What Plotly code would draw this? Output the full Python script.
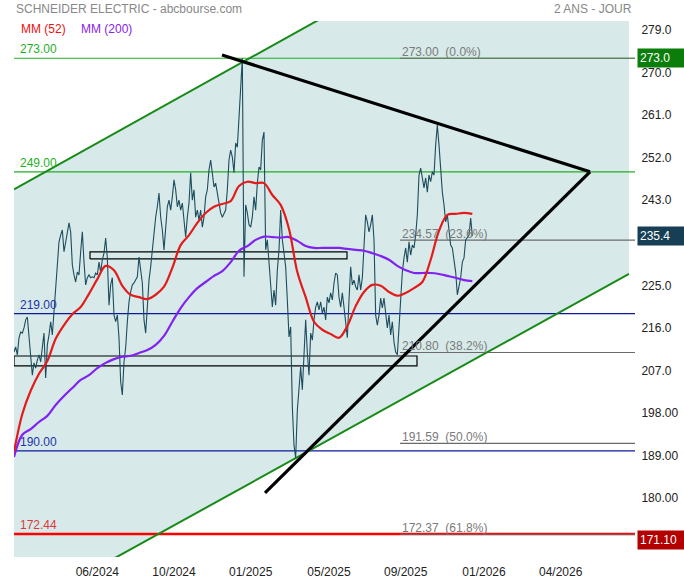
import plotly.graph_objects as go

# ---------------- data ----------------
# daily closing prices (bar index 0..275)
price = [
    210.9, 212.0, 210.3, 213.9, 215.1, 214.9, 216.0, 217.7, 218.3, 213.9,
    209.6, 206.0, 208.6, 207.5, 209.2, 210.3, 208.8, 212.4, 214.9, 205.4,
    212.4, 214.5, 217.3, 214.5, 219.4, 225.1, 229.9, 234.2, 235.6, 236.7,
    232.1, 234.2, 236.3, 238.2, 236.3, 229.3, 227.2, 225.7, 227.8, 227.2,
    232.1, 236.3, 229.9, 225.1, 226.6, 227.2, 226.6, 226.8, 226.6, 227.6,
    227.2, 229.9, 227.8, 230.4, 231.8, 235.0, 230.8, 220.8, 225.1, 226.6,
    218.7, 217.3, 218.7, 213.9, 204.6, 201.8, 208.8, 211.8, 217.3, 221.5,
    223.6, 225.1,
    225.5, 226.1, 226.8, 231.0, 228.7, 225.5, 217.7, 214.9, 220.4, 226.1,
    228.9, 232.5, 236.7, 239.4, 241.6, 244.5, 239.4, 236.7, 232.5, 236.7,
    241.6, 243.0, 240.9, 243.7, 247.3, 245.2, 241.6, 243.0, 240.9, 242.4,
    239.4, 235.2, 239.4, 242.4, 248.8, 243.0, 245.2, 239.4, 240.9, 238.8,
    240.9, 237.3, 239.4, 243.7, 245.2, 249.4, 251.5, 248.8, 245.8, 246.6,
    244.5, 242.4, 240.3, 239.4, 240.3, 240.9, 245.2, 251.5, 253.6, 252.1,
    248.8, 255.1, 254.2, 260.0, 267.8, 273.0,
    226.8, 242.0, 240.3, 237.8, 237.3, 239.4, 243.7, 240.9, 246.6, 250.0,
    249.4, 255.7, 257.4, 232.5, 234.6, 229.7, 224.7, 220.4, 224.0, 220.8,
    228.2, 232.5, 240.9, 234.6, 231.8, 228.9, 221.9, 214.1, 216.2, 199.3,
    191.2, 188.5, 198.6, 204.3, 207.7, 202.9, 212.0, 217.7, 210.7, 206.0,
    214.9, 213.4, 217.7, 220.4, 221.5, 219.8, 221.5, 219.1, 220.4, 217.7,
    222.5, 221.3, 223.4, 221.9, 225.5, 227.6, 227.2, 222.5, 220.4, 223.4,
    220.4, 217.7, 213.9, 221.9, 228.9, 225.1, 226.1, 224.7, 224.0, 227.2,
    224.0, 226.6, 233.5, 239.9, 238.4, 236.3, 237.8, 239.9, 234.6, 218.7,
    216.6, 218.7, 222.3, 220.2, 222.3, 218.7, 216.0, 218.7, 214.5, 217.3,
    213.0, 210.9, 210.3, 216.0, 222.3, 227.8, 230.8, 232.9, 229.9, 234.2,
    231.4, 233.5, 232.9, 235.6, 239.9, 248.3, 249.8, 247.3, 245.6, 247.7,
    244.7, 248.3, 246.9, 249.0, 248.3, 254.7, 258.9, 254.7, 249.0, 244.7,
    242.0, 238.4, 239.9, 236.3, 233.5, 232.9, 229.9, 227.8, 223.0, 225.1,
    226.6, 229.9, 230.8, 234.6, 235.0, 235.6, 239.2, 235.4,
]
price_x = list(range(len(price)))

# moving averages, read every 5 bars (last one at the final bar)
ma_x = list(range(0, 275, 5)) + [275]
mm52 = [
    189.8, 197.8, 202.7, 206.3, 209.0, 213.7, 216.6, 218.9, 220.4, 223.2,
    226.3, 229.1, 228.2, 224.9, 223.0, 222.5, 222.1, 223.0, 224.7, 228.7,
    233.5, 235.6, 238.2, 240.3, 241.6, 242.2, 242.8, 246.0, 246.9, 246.6,
    246.6, 244.1, 242.0, 236.9, 227.8, 222.5, 217.3, 215.6, 214.7, 213.9,
    216.4, 220.6, 223.6, 225.1, 224.9, 223.6, 222.8, 223.4, 224.4, 225.7,
    230.4, 236.5, 239.9, 240.1, 240.3, 240.1,
]
mm200 = [
    188.7, 193.4, 194.6, 196.1, 197.4, 199.7, 201.6, 203.3, 205.0, 206.0,
    207.5, 208.6, 209.4, 209.9, 210.1, 210.7, 211.3, 212.4, 214.3, 217.3,
    220.2, 222.5, 224.4, 225.7, 227.0, 228.0, 229.9, 232.3, 233.3, 234.6,
    235.3, 235.2, 235.1, 235.2, 234.4, 233.3, 232.9, 232.9, 232.9, 232.9,
    232.7, 232.5, 232.3, 231.8, 231.2, 230.4, 229.1, 228.2, 227.6, 227.6,
    227.6, 227.4, 227.0, 226.6, 226.1, 225.9,
]

# x axis labels
x_tickvals = [50, 96, 142, 189, 235, 282, 328]
x_ticktext = ["06/2024", "10/2024", "01/2025", "05/2025", "09/2025", "01/2026", "04/2026"]

# y axis labels
y_tickvals = [279, 270, 261, 252, 243, 225, 216, 207, 198, 189, 180]
y_ticktext = ["279.0", "270.0", "261.0", "252.0", "243.0", "225.0", "216.0", "207.0",
              "198.00", "189.00", "180.00"]

# horizontal levels drawn across the chart
levels = [273.00, 249.00, 219.00, 190.00, 172.44]
level_colors = ["#1fb01f", "#1fb01f", "#0c1a9c", "#0c1a9c", "#ff0000"]
level_text_colors = ["#1fb01f", "#1fb01f", "#2233aa", "#2233aa", "#e0383a"]
level_widths = [1.2, 1.2, 1.2, 1.2, 2.5]

# Fibonacci retracement
fib_levels = [273.00, 234.57, 210.80, 191.59, 172.37]
fib_pcts = ["0.0%", "23.6%", "38.2%", "50.0%", "61.8%"]
fib_start = 231.6

# channel (parallel green lines)
channel_x = [0, 369]
channel_upper = [245.3, 317.6]
channel_lower = [155.56, 227.4]

# converging trend lines
resist_x = [124.8, 345.6]
resist_y = [273.7, 249.0]
support_x = [150.6, 345.6]
support_y = [181.1, 249.0]

# zones (rectangles)
zone_x = [[45.6, 199.8], [0, 241.8]]
zone_y = [[230.57, 232.05], [207.95, 210.06]]

# right-side price tags
tags = [273.0, 235.4, 171.10]
tag_text = ["273.0", "235.4", "171.10"]
tag_colors = ["#0a7d0a", "#163f55", "#b30000"]

X_MAX = 372.6
Y_MIN, Y_MAX = 167.56, 280.88

FONT = "Arial, 'Liberation Sans', sans-serif"

fig = go.Figure()

# channel fill
fig.add_trace(go.Scatter(
    x=[channel_x[0], channel_x[1], channel_x[1], channel_x[0], channel_x[0]],
    y=[channel_upper[0], channel_upper[1], channel_lower[1], channel_lower[0], channel_upper[0]],
    fill="toself", fillcolor="#d7eae9", mode="none", hoverinfo="skip"))

# horizontal levels
for v, c, w in zip(levels, level_colors, level_widths):
    fig.add_trace(go.Scatter(x=[0, X_MAX], y=[v, v], mode="lines",
                             line=dict(color=c, width=w), hoverinfo="skip"))

# fib lines
for v in fib_levels:
    fig.add_trace(go.Scatter(x=[fib_start, X_MAX], y=[v, v], mode="lines",
                             line=dict(color="#6a6a6a", width=1.2), hoverinfo="skip"))

# zones
for zx, zy in zip(zone_x, zone_y):
    fig.add_trace(go.Scatter(x=[zx[0], zx[1], zx[1], zx[0], zx[0]],
                             y=[zy[0], zy[0], zy[1], zy[1], zy[0]],
                             mode="lines", line=dict(color="black", width=1.2), hoverinfo="skip"))

# channel lines
fig.add_trace(go.Scatter(x=channel_x, y=channel_upper, mode="lines",
                         line=dict(color="#188a18", width=2), hoverinfo="skip"))
fig.add_trace(go.Scatter(x=channel_x, y=channel_lower, mode="lines",
                         line=dict(color="#188a18", width=2), hoverinfo="skip"))

# price
fig.add_trace(go.Scatter(x=price_x, y=price, mode="lines",
                         line=dict(color="#1d4c5e", width=1.1)))
# moving averages
fig.add_trace(go.Scatter(x=ma_x, y=mm200, mode="lines", line_shape="spline",
                         line=dict(color="#8122f0", width=2.2)))
fig.add_trace(go.Scatter(x=ma_x, y=mm52, mode="lines", line_shape="spline",
                         line=dict(color="#e31b1b", width=2.2)))

# trend lines
fig.add_trace(go.Scatter(x=resist_x, y=resist_y, mode="lines",
                         line=dict(color="black", width=3.2), hoverinfo="skip"))
fig.add_trace(go.Scatter(x=support_x, y=support_y, mode="lines",
                         line=dict(color="black", width=3.2), hoverinfo="skip"))

annotations = []
# left labels for levels
for v, c in zip(levels, level_text_colors):
    annotations.append(dict(x=2.4, y=v, xref="x", yref="y", text=f"{v:.2f}",
                            showarrow=False, xanchor="left", yanchor="bottom",
                            font=dict(color=c, size=12, family=FONT)))
# fib labels
for v, p in zip(fib_levels, fib_pcts):
    annotations.append(dict(x=fib_start, y=v, xref="x", yref="y",
                            text=f"{v:.2f}\u00a0\u00a0({p})",
                            showarrow=False, xanchor="left", yanchor="bottom", yshift=-3,
                            font=dict(color="#7a7a7a", size=12, family=FONT)))
# right tags
for v, t, c in zip(tags, tag_text, tag_colors):
    annotations.append(dict(x=1, y=v, xref="paper", yref="y", text=t,
                            showarrow=False, xanchor="left", yanchor="middle", xshift=2,
                            bgcolor=c, width=43, align="left", borderpad=2,
                            font=dict(color="white", size=12, family=FONT)))
# titles / legend
annotations += [
    dict(x=0, y=1.0224, xref="paper", yref="paper", text="SCHNEIDER ELECTRIC - abcbourse.com",
         showarrow=False, xanchor="left", yanchor="middle",
         font=dict(color="#888888", size=12, family=FONT)),
    dict(x=0.998, y=1.0224, xref="paper", yref="paper", text="2 ANS - JOUR",
         showarrow=False, xanchor="right", yanchor="middle",
         font=dict(color="#888888", size=12, family=FONT)),
    dict(x=0.008, y=0.985, xref="paper", yref="paper", text="MM (52)",
         showarrow=False, xanchor="left", yanchor="middle",
         font=dict(color="#ee1111", size=12, family=FONT)),
    dict(x=0.105, y=0.985, xref="paper", yref="paper", text="MM (200)",
         showarrow=False, xanchor="left", yanchor="middle",
         font=dict(color="#8822ee", size=12, family=FONT)),
]

fig.update_layout(
    width=684, height=580, autosize=False,
    margin=dict(l=14, r=49, t=21, b=23, autoexpand=False),
    paper_bgcolor="white", plot_bgcolor="white",
    showlegend=False,
    font=dict(family=FONT, size=12, color="#222222"),
    annotations=annotations,
    xaxis=dict(range=[0, X_MAX], showgrid=False, zeroline=False, showline=False,
               automargin=False,
               tickvals=x_tickvals, ticktext=x_ticktext, ticks="outside", ticklen=4,
               tickcolor="rgba(0,0,0,0)", tickfont=dict(size=12, color="#222222")),
    yaxis=dict(range=[Y_MIN, Y_MAX], side="right", showgrid=False, zeroline=False,
               automargin=False,
               showline=False, tickvals=y_tickvals, ticktext=y_ticktext,
               ticks="outside", ticklen=3, tickcolor="rgba(0,0,0,0)",
               tickfont=dict(size=12, color="#222222")),
)

fig.write_html("out.html", config={"displayModeBar": False},
               post_script="document.body.style.margin='0';document.body.style.padding='0';")
